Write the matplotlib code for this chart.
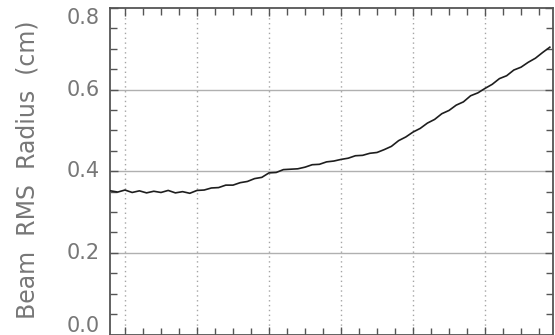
import matplotlib
matplotlib.use("Agg")
from matplotlib import pyplot as plt
from matplotlib.ticker import MultipleLocator
import matplotlib.transforms as mtransforms

# beam position along the line (no labels shown on this axis)
z_pos = [-2, -1, 0, 1, 2, 3, 4, 5, 6, 7, 8, 9, 10, 11, 12, 13, 14, 15, 16, 17,
         18, 19, 20, 21, 22, 23, 24, 25, 26, 27, 28, 29, 30, 31, 32, 33, 34, 35,
         36, 37, 38, 39, 40, 41, 42, 43, 44, 45, 46, 47, 48, 49, 50, 51, 52, 53,
         54, 55, 56, 57, 58, 59]
# beam rms radius (cm)
rms_radius = [0.352, 0.349, 0.354, 0.348, 0.352, 0.347, 0.351, 0.348, 0.353, 0.347,
              0.350, 0.346, 0.353, 0.354, 0.359, 0.360, 0.366, 0.366, 0.372, 0.375,
              0.382, 0.385, 0.396, 0.397, 0.404, 0.405, 0.406, 0.410, 0.416, 0.417,
              0.423, 0.425, 0.429, 0.432, 0.438, 0.439, 0.444, 0.446, 0.453, 0.461,
              0.475, 0.484, 0.496, 0.505, 0.518, 0.527, 0.541, 0.549, 0.562, 0.570,
              0.585, 0.592, 0.603, 0.613, 0.627, 0.634, 0.648, 0.655, 0.667, 0.677,
              0.691, 0.704]

y_ticks = [0.0, 0.2, 0.4, 0.6, 0.8]
y_tick_labels = ["0.0", "0.2", "0.4", "0.6", "0.8"]
x_grid = [0, 10, 20, 30, 40, 50]

W, H = 555, 335
fig = plt.figure(figsize=(W / 100, H / 100), dpi=100)
ax = fig.add_axes([110 / W, 0.5 / H, (553 - 110) / W, (334.5 - 8) / H])

frame_col = "#555555"
text_col = "#777777"

ax.set_xlim(-2.08, 59.44)
ax.set_ylim(0, 0.8)

# grid: dotted verticals, solid light horizontals
for gx in x_grid:
    ax.axvline(gx, color="#a5a5a5", lw=1.0, ls=(0, (1, 2.5)), zorder=1)
for gy in [0.2, 0.4, 0.6]:
    ax.axhline(gy, color="#b0b0b0", lw=1.0, zorder=1)

ax.plot(z_pos, rms_radius, color="#1e1e1e", lw=1.2, zorder=3)

for side in ax.spines.values():
    side.set_color(frame_col)
    side.set_linewidth(1.3)

ax.xaxis.set_major_locator(MultipleLocator(10))
ax.xaxis.set_minor_locator(MultipleLocator(2.5))
ax.yaxis.set_major_locator(MultipleLocator(0.2))
ax.yaxis.set_minor_locator(MultipleLocator(0.05))
ax.tick_params(which="both", direction="in", top=True, right=True,
               color=frame_col, width=1.0, labelbottom=False, labelleft=False)
ax.tick_params(which="major", length=6)
ax.tick_params(which="minor", length=5)

# y tick labels drawn by hand so the end ones can be nudged inside the figure
trans = mtransforms.blended_transform_factory(ax.transAxes, ax.transData)
nudge = {"0.0": 8, "0.8": -10}
for val, lab in zip(y_ticks, y_tick_labels):
    off = mtransforms.ScaledTranslation(0, nudge.get(lab, 0) / 100, fig.dpi_scale_trans)
    ax.text(-10 / (553 - 110), val, lab, transform=trans + off, ha="right",
            va="center", fontsize=15, color=text_col)

fig.text(28 / W, 1 - 170 / H, "Beam  RMS  Radius  (cm)", rotation=90,
         ha="center", va="center", fontsize=17, color=text_col)

fig.savefig("out.png", dpi=100, facecolor="white")
